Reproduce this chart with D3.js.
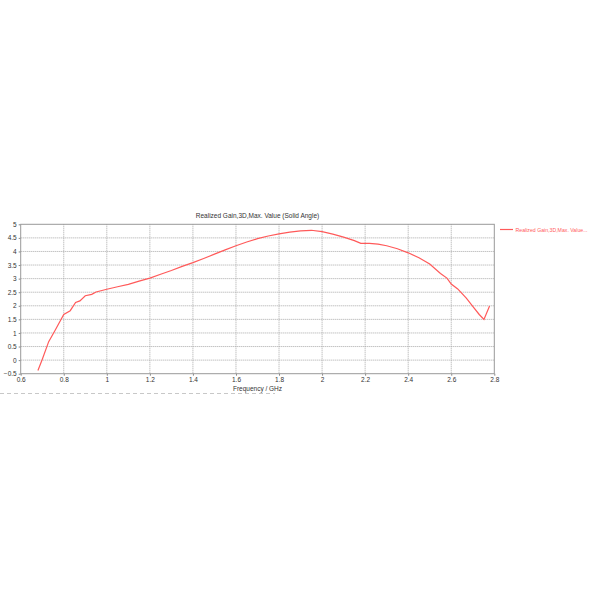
<!DOCTYPE html>
<html>
<head>
<meta charset="utf-8">
<script src="https://cdn.jsdelivr.net/npm/d3@7"></script>
<style>
  body { margin: 0; background: #fff; }
  text { font-family: "Liberation Sans", Arial, sans-serif; fill: #333; }
</style>
</head>
<body>
<div id="chart"></div>
<script>
// frequency in GHz, realized gain in dB
const freq = [0.68, 0.70, 0.73, 0.76, 0.80, 0.83, 0.855, 0.875, 0.90, 0.93, 0.95,
  1.0, 1.05, 1.1, 1.15, 1.2, 1.25, 1.3, 1.35, 1.4, 1.45, 1.5, 1.55, 1.6, 1.65,
  1.7, 1.75, 1.8, 1.85, 1.9, 1.95, 2.0, 2.05, 2.1, 2.15, 2.18, 2.22, 2.26, 2.3,
  2.35, 2.4, 2.45, 2.5, 2.55, 2.58, 2.6, 2.63, 2.67, 2.7, 2.73, 2.752, 2.778];
const gain = [-0.38, 0.02, 0.68, 1.1, 1.68, 1.82, 2.12, 2.18, 2.37, 2.42, 2.51,
  2.61, 2.70, 2.79, 2.91, 3.02, 3.16, 3.30, 3.45, 3.59, 3.74, 3.9, 4.06, 4.21, 4.35,
  4.47, 4.57, 4.65, 4.71, 4.76, 4.78, 4.73, 4.64, 4.53, 4.40, 4.30, 4.30, 4.27, 4.21,
  4.10, 3.95, 3.77, 3.54, 3.19, 3.02, 2.80, 2.62, 2.28, 1.98, 1.68, 1.50, 1.99];
const xTicks = [0.6, 0.8, 1, 1.2, 1.4, 1.6, 1.8, 2, 2.2, 2.4, 2.6, 2.8];
const yTicks = [-0.5, 0, 0.5, 1, 1.5, 2, 2.5, 3, 3.5, 4, 4.5, 5];

const title = "Realized Gain,3D,Max. Value (Solid Angle)";
const xLabel = "Frequency / GHz";
const legendLabel = "Realized Gain,3D,Max. Value...";
const lineColor = "#ff5a5a";

const W = 600, H = 600;
const plot = { left: 20.7, right: 494.3, top: 224.3, bottom: 373.7 };

const svg = d3.select("#chart").append("svg")
    .attr("width", W)
    .attr("height", H);

const x = d3.scaleLinear().domain([0.6, 2.8]).range([plot.left, plot.right]);
const y = d3.scaleLinear().domain([-0.5, 5]).range([plot.bottom, plot.top]);

// grid
svg.append("g")
    .selectAll("line")
    .data(xTicks.slice(1, -1))
    .enter().append("line")
        .attr("x1", d => x(d)).attr("x2", d => x(d))
        .attr("y1", plot.top).attr("y2", plot.bottom)
        .attr("stroke", "#a8a8a8")
        .attr("stroke-dasharray", "1,1");

svg.append("g")
    .selectAll("line")
    .data(yTicks.slice(1, -1))
    .enter().append("line")
        .attr("x1", plot.left).attr("x2", plot.right)
        .attr("y1", d => y(d)).attr("y2", d => y(d))
        .attr("stroke", "#a8a8a8")
        .attr("stroke-dasharray", "1,1");

// axes
const xAxis = svg.append("g")
    .attr("transform", `translate(0, ${plot.bottom})`)
    .call(d3.axisBottom(x).tickValues(xTicks).tickFormat(d3.format("")).tickSizeInner(2).tickSizeOuter(0).tickPadding(2));

const yAxis = svg.append("g")
    .attr("transform", `translate(${plot.left}, 0)`)
    .call(d3.axisLeft(y).tickValues(yTicks).tickFormat(d3.format("")).tickSizeInner(2).tickSizeOuter(0).tickPadding(2));

[xAxis, yAxis].forEach(a => {
    a.selectAll(".domain").remove();
    a.selectAll(".tick line").attr("stroke", "#888");
    a.selectAll(".tick text")
        .style("font-size", "6.5px")
        .style("font-family", "'Liberation Sans', Arial, sans-serif")
        .attr("fill", "#333");
});

// frame
svg.append("rect")
    .attr("x", plot.left).attr("y", plot.top)
    .attr("width", plot.right - plot.left)
    .attr("height", plot.bottom - plot.top)
    .attr("fill", "none")
    .attr("stroke", "#999")
    .attr("stroke-width", 1);

// curve
const line = d3.line()
    .x((d, i) => x(freq[i]))
    .y(d => y(d));

svg.append("path")
    .datum(gain)
    .attr("d", line)
    .attr("fill", "none")
    .attr("stroke", lineColor)
    .attr("stroke-width", 1.2);

// title and label
svg.append("text")
    .attr("x", (plot.left + plot.right) / 2)
    .attr("y", 218)
    .attr("text-anchor", "middle")
    .style("font-size", "6.5px")
    .text(title);

svg.append("text")
    .attr("x", (plot.left + plot.right) / 2)
    .attr("y", 391)
    .attr("text-anchor", "middle")
    .style("font-size", "6.5px")
    .text(xLabel);

// legend
svg.append("line")
    .attr("x1", 500).attr("x2", 513)
    .attr("y1", 229.5).attr("y2", 229.5)
    .attr("stroke", lineColor)
    .attr("stroke-width", 1.2);

svg.append("text")
    .attr("x", 515.5)
    .attr("y", 231.8)
    .attr("textLength", 72)
    .attr("lengthAdjust", "spacingAndGlyphs")
    .style("font-size", "6.2px")
    .style("fill", lineColor)
    .text(legendLabel);

// separator under the chart
svg.append("line")
    .attr("x1", 0).attr("x2", 275)
    .attr("y1", 393.5).attr("y2", 393.5)
    .attr("stroke", "#c8c8c8")
    .attr("stroke-dasharray", "4,3");
</script>
</body>
</html>
